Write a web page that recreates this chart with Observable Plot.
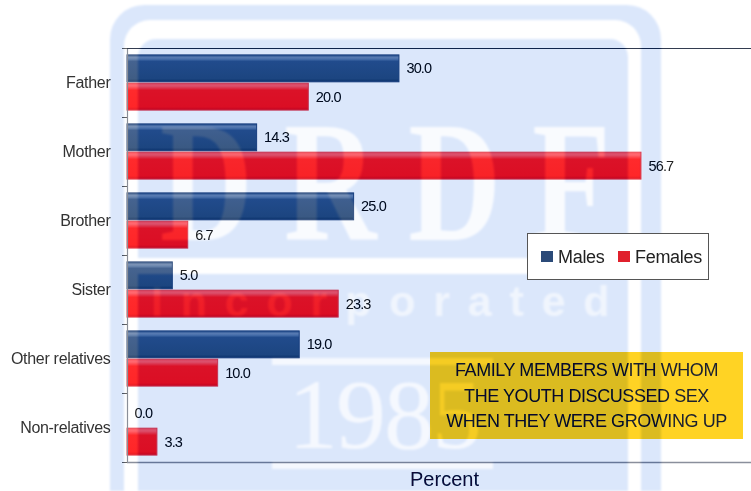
<!DOCTYPE html>
<html>
<head>
<meta charset="utf-8">
<script src="https://cdn.jsdelivr.net/npm/d3@7"></script>
<script src="https://cdn.jsdelivr.net/npm/@observablehq/plot@0.6"></script>
<style>
html,body{margin:0;padding:0;background:#fff;}
#stage{position:relative;width:751px;height:491px;overflow:hidden;font-family:"Liberation Sans",Arial,sans-serif;background:#fff;}
#chart{position:absolute;left:0;top:0;width:751px;height:491px;}
#chart svg{display:block;max-width:none;}
g[aria-label="y-axis tick label"] text{letter-spacing:-.3px;}
g.val text{letter-spacing:-.85px;}
#note{position:absolute;left:430px;top:352px;width:313px;height:87px;background:#ffd324;color:#1b2030;
  font-size:18px;letter-spacing:-.43px;line-height:25.5px;text-align:center;padding-top:6px;box-sizing:border-box;white-space:nowrap;}
#wm{position:absolute;inset:0;background:#000;mix-blend-mode:difference;overflow:hidden;filter:blur(1px);}
#wm div{position:absolute;white-space:nowrap;}
.blue{background:#241804;}
.hole{background:#000;}
.wt{color:#060401;font-family:"Liberation Serif",serif;font-weight:bold;line-height:1;}
#legend{position:absolute;left:527px;top:233px;width:182px;height:47px;box-sizing:border-box;background:#fff;border:1.3px solid #555;font-size:18px;color:#222;letter-spacing:-.3px;}
#legend span{position:absolute;top:13px;}
#legend i{position:absolute;top:17px;width:12px;height:11px;}
</style>
</head>
<body>
<div id="stage">
  <div id="chart"></div>
  <div id="note">FAMILY MEMBERS WITH WHOM<br>THE YOUTH DISCUSSED SEX<br>WHEN THEY WERE GROWING UP</div>
  <div id="wm">
    <div class="blue" style="left:110px;top:5px;width:551px;height:540px;border-radius:34px;"></div>
    <div class="hole" style="left:124px;top:20px;width:517px;height:520px;border-radius:26px;"></div>
    <div class="blue" style="left:138px;top:39px;width:490px;height:219px;border-radius:18px 18px 0 0;"></div>
    <div class="blue" style="left:138px;top:274px;width:490px;height:260px;"></div>
    <div class="wt" style="left:160px;top:97px;font-size:171px;transform:scaleX(.75);transform-origin:left top;letter-spacing:42px;">DRDF</div>
    <div style="left:151px;top:276px;font:bold 43px 'Liberation Sans',sans-serif;color:#0f0a02;letter-spacing:17.8px;line-height:1.2;">Incorporated</div>
    <div class="hole" style="left:272px;top:358px;width:221px;height:7px;background:#0a0701;"></div>
    <div class="hole" style="left:272px;top:462px;width:221px;height:7px;background:#0a0701;"></div>
    <div class="wt" style="left:288px;top:365px;font-size:100px;font-weight:normal;letter-spacing:-2px;color:#0a0701;">1985</div>
  </div>
  <div id="legend">
    <i style="left:13px;background:#2b4a78;"></i><span style="left:30px;">Males</span>
    <i style="left:90px;background:#e0202c;"></i><span style="left:107px;">Females</span>
  </div>
</div>
<script>
const categories = ["Father","Mother","Brother","Sister","Other relatives","Non-relatives"];
const males = [30.0,14.3,25.0,5.0,19.0,0.0];
const females = [20.0,56.7,6.7,23.3,10.0,3.3];

const rowsM = categories.map((c,i)=>({c,i,value:males[i]}));
const rowsF = categories.map((c,i)=>({c,i,value:females[i]}));

function grad(id,stops){
  const g = d3.create("svg:linearGradient").attr("id",id).attr("x1",0).attr("y1",0).attr("x2",0).attr("y2",1);
  stops.forEach(([o,c])=>g.append("stop").attr("offset",o).attr("stop-color",c));
  return g.node();
}
const defs = () => {
  const d = d3.create("svg:defs");
  d.node().append(grad("gm",[[0,"#46648f"],[.1,"#7c93b6"],[.16,"#6a86ae"],[.24,"#456390"],[.88,"#405d84"],[1,"#2f4a70"]]));
  d.node().append(grad("gf",[[0,"#ff5a62"],[.1,"#ff6a72"],[.18,"#ff4a50"],[.26,"#ff2a2c"],[.88,"#ff2628"],[1,"#e41c26"]]));
  return d.node();
};
const chart = Plot.plot({
  width:751,height:491,
  marginLeft:127,marginRight:0,marginTop:48,marginBottom:29,
  style:{fontFamily:"Liberation Sans, Arial, sans-serif",background:"#fff",overflow:"visible",maxWidth:"none"},
  x:{domain:[0,68.84],axis:null},
  y:{domain:[0,6],range:[48,462],axis:null},
  marks:[
    defs,
    Plot.rect(rowsM.filter(d=>d.value>0),{x1:()=>0,x2:"value",y1:d=>d.i+.10,y2:d=>d.i+.49,fill:"url(#gm)",stroke:"#3a5582",strokeWidth:1}),
    Plot.rect(rowsF,{x1:()=>0,x2:"value",y1:d=>d.i+.51,y2:d=>d.i+.90,fill:"url(#gf)",stroke:"#e84a55",strokeWidth:1}),
    Plot.text(rowsM,{className:"val",x:"value",y:d=>d.i+.295,text:d=>d.value.toFixed(1),dx:7,textAnchor:"start",fontSize:14.5,fill:"#222"}),
    Plot.text(rowsF,{className:"val",x:"value",y:d=>d.i+.705,text:d=>d.value.toFixed(1),dx:7,textAnchor:"start",fontSize:14.5,fill:"#222"}),
    Plot.ruleX([0],{stroke:"#8a8f99",strokeWidth:1.2}),
    Plot.ruleY([0],{stroke:"#333c50",strokeWidth:1}),
    Plot.ruleY([6],{stroke:"#8a8f9c",strokeWidth:1.4}),
    Plot.axisY({anchor:"left",ticks:d3.range(0,7),tickSize:5,tickFormat:()=>"",label:null,stroke:"#666"}),
    Plot.axisY({anchor:"left",ticks:categories.map((c,i)=>i+.5),tickSize:0,tickPadding:17,tickFormat:v=>categories[Math.floor(v)],label:null,fontSize:16,fill:"#333"}),
    Plot.text(["Percent"],{frameAnchor:"bottom",dx:5,dy:17,lineAnchor:"middle",fontSize:20,fill:"#15203a"})
  ]
});
document.getElementById("chart").append(chart);
</script>
</body>
</html>
